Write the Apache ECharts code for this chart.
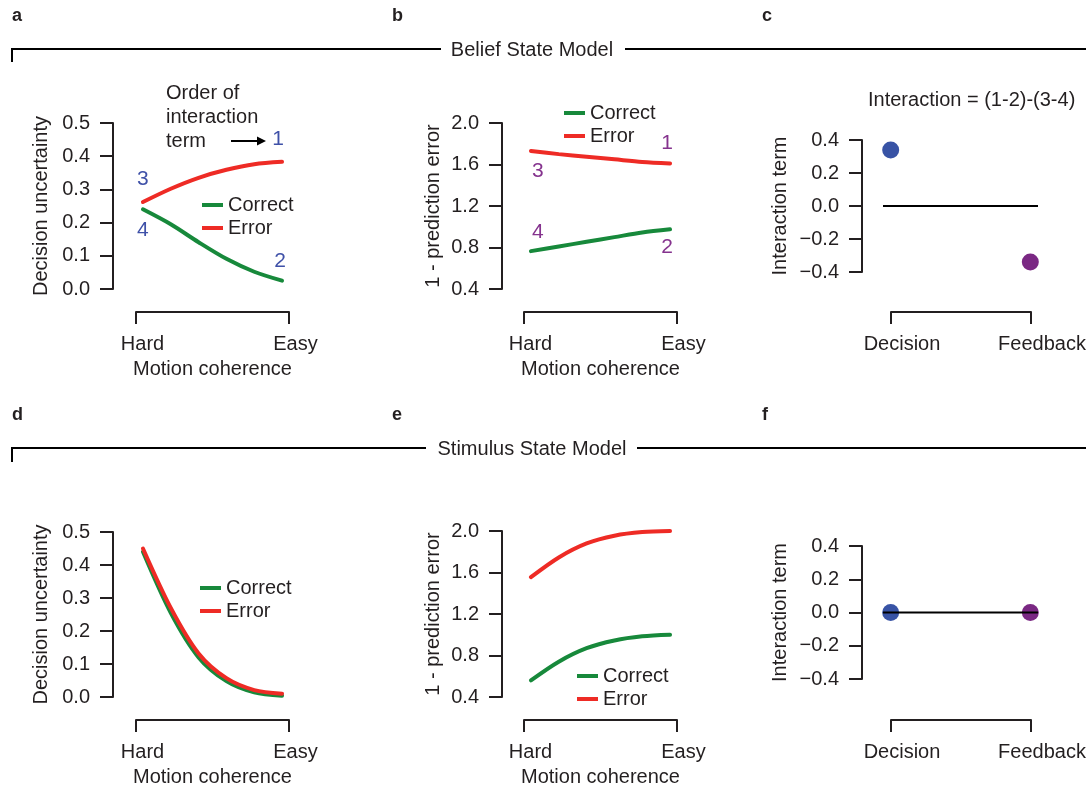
<!DOCTYPE html>
<html>
<head>
<meta charset="utf-8">
<script src="https://cdn.jsdelivr.net/npm/echarts@6/dist/echarts.min.js"></script>
<style>
  html, body { margin: 0; padding: 0; background: #fff; }
  #chart { width: 1086px; height: 787px; }
</style>
</head>
<body>
<div id="chart"></div>
<script>
// motion coherence, Hard (0) -> Easy (1)
const coherence = [0, 0.2, 0.4, 0.6, 0.8, 1]
const coherenceEnds = ['Hard', 'Easy']

// belief state model
const beliefUncCorrect = [0.24, 0.195, 0.141, 0.091, 0.052, 0.025]
const beliefUncError = [0.262, 0.302, 0.335, 0.359, 0.376, 0.383]
const beliefPeCorrect = [0.765, 0.81, 0.855, 0.90, 0.945, 0.975]
const beliefPeError = [1.73, 1.70, 1.675, 1.65, 1.625, 1.61]

// stimulus state model
const stimUncCorrect = [0.44, 0.255, 0.12, 0.048, 0.014, 0.004]
const stimUncError = [0.45, 0.27, 0.132, 0.057, 0.021, 0.01]
const stimPeCorrect = [0.56, 0.74, 0.87, 0.945, 0.985, 1.0]
const stimPeError = [1.555, 1.745, 1.88, 1.955, 1.99, 2.0]

// interaction term = (1-2)-(3-4)
const conditions = ['Decision', 'Feedback']
const beliefInteraction = [0.34, -0.34]
const stimulusInteraction = [0, 0]
const zeroLine = [-0.055, 1.055]

// order tags: 1 = error/easy, 2 = correct/easy, 3 = error/hard, 4 = correct/hard
const orderTags = ['1', '2', '3', '4']

const font = 'Liberation Sans, Arial, Helvetica, sans-serif'
const ink = '#231f20'
const green = '#17893b'
const red = '#ee2b25'
const tagBlue = '#3f51a8'
const tagPurple = '#85338e'
const dotColors = ['#3853a5', '#7a2883']

// 0-5 are the panels, 6-7 only carry the Decision/Feedback brackets of c and f
const grids = [
  { left: 136, top: 123, width: 153, height: 166 },
  { left: 524, top: 123, width: 153, height: 166 },
  { left: 883, top: 140, width: 155, height: 132 },
  { left: 136, top: 532, width: 153, height: 165 },
  { left: 524, top: 531, width: 153, height: 166 },
  { left: 883, top: 546, width: 155, height: 133 },
  { left: 891, top: 140, width: 140, height: 132 },
  { left: 891, top: 546, width: 140, height: 133 }
].map(g => Object.assign({ outerBoundsMode: 'none', containLabel: false }, g))

const axisLine = { show: true, onZero: false, lineStyle: { color: ink, width: 2 } }

function fmt1(v) {
  return (v < -1e-9 ? '\u2212' : '') + Math.abs(v).toFixed(1)
}

function yAxis(gi, min, max, step, name, offset, gap) {
  return {
    type: 'value', gridIndex: gi, min: min, max: max, interval: step,
    offset: offset, axisLine: axisLine,
    axisTick: { show: true, length: 13, lineStyle: { color: ink, width: 2 } },
    axisLabel: { margin: 23, fontSize: 20, color: ink, fontFamily: font, formatter: fmt1 },
    splitLine: { show: false },
    name: name, nameLocation: 'middle', nameGap: gap,
    nameTextStyle: { fontSize: 20, color: ink, fontFamily: font }
  }
}

function xAxisCoh(gi) {
  return {
    type: 'value', gridIndex: gi, min: -0.05, max: 1.05, offset: 23,
    axisLine: axisLine,
    axisTick: { show: true, length: 12, customValues: [-0.05, 1.05], lineStyle: { color: ink, width: 2 } },
    axisLabel: {
      customValues: [-0.05, 1.05], margin: 22, fontSize: 20, color: ink, fontFamily: font,
      padding: [0, 0, 0, 13], formatter: v => v < 0.5 ? coherenceEnds[0] : coherenceEnds[1]
    },
    splitLine: { show: false },
    name: 'Motion coherence', nameLocation: 'middle', nameGap: 47,
    nameTextStyle: { fontSize: 20, color: ink, fontFamily: font }
  }
}

// data axis of c / f, a little wider than the bracket so the zero line overhangs
function xAxisCondData(gi) {
  return { type: 'value', gridIndex: gi, min: zeroLine[0], max: zeroLine[1], show: false }
}

function xAxisCondBracket(gi, offset) {
  return {
    type: 'value', gridIndex: gi, min: 0, max: 1, offset: offset,
    axisLine: axisLine,
    axisTick: { show: true, length: 12, customValues: [0, 1], lineStyle: { color: ink, width: 2 } },
    axisLabel: {
      customValues: [0, 1], margin: 22, fontSize: 20, color: ink, fontFamily: font,
      padding: [0, 0, 0, 22], formatter: v => conditions[Math.round(v)]
    },
    splitLine: { show: false }
  }
}

function curve(gi, name, ys, color) {
  return {
    type: 'line', name: name, xAxisIndex: gi, yAxisIndex: gi,
    data: coherence.map((x, i) => [x, ys[i]]),
    smooth: 0.3, showSymbol: false, symbol: 'none',
    itemStyle: { color: color },
    lineStyle: { color: color, width: 4, cap: 'round' }
  }
}

function tags(gi, correct, error, color, offsets) {
  const n = coherence.length - 1
  const pts = [
    [coherence[n], error[n]],
    [coherence[n], correct[n]],
    [coherence[0], error[0]],
    [coherence[0], correct[0]]
  ]
  return {
    type: 'scatter', xAxisIndex: gi, yAxisIndex: gi, symbolSize: 1,
    itemStyle: { color: 'transparent', opacity: 1 }, silent: true,
    data: pts.map((p, i) => ({
      value: p,
      label: {
        show: true, formatter: orderTags[i], position: 'inside', offset: offsets[i],
        fontSize: 21, color: color, opacity: 1, fontFamily: font
      }
    }))
  }
}

function interaction(gi, vals) {
  return [
    {
      type: 'line', xAxisIndex: gi, yAxisIndex: gi, silent: true,
      data: zeroLine.map(x => [x, 0]), showSymbol: false, symbol: 'none',
      lineStyle: { color: '#000', width: 2 }
    },
    {
      type: 'scatter', xAxisIndex: gi, yAxisIndex: gi, symbolSize: 17, clip: false,
      data: vals.map((v, i) => ({ value: [i, v], itemStyle: { color: dotColors[i], opacity: 1 } }))
    }
  ]
}

function legend(left, top) {
  return {
    data: ['Correct', 'Error'], left: left, top: top, orient: 'vertical',
    icon: 'rect', itemWidth: 21, itemHeight: 4, itemGap: 3,
    textStyle: { fontSize: 20, lineHeight: 20, color: ink, fontFamily: font }
  }
}

function txt(x, y, s, extra) {
  return {
    type: 'text', silent: true,
    style: Object.assign({ x: x, y: y, text: s, fill: ink, font: '20px ' + font }, extra || {})
  }
}

function line(points) {
  return { type: 'polyline', silent: true, shape: { points: points }, style: { stroke: '#000', lineWidth: 2, fill: null } }
}

const letterFont = 'bold 18px ' + font

const option = {
  animation: false,
  backgroundColor: '#fff',
  grid: grids,
  xAxis: [
    xAxisCoh(0), xAxisCoh(1), xAxisCondData(2), xAxisCoh(3), xAxisCoh(4), xAxisCondData(5),
    xAxisCondBracket(6, 40), xAxisCondBracket(7, 41)
  ],
  yAxis: [
    yAxis(0, 0, 0.5, 0.1, 'Decision uncertainty', 23, 62),
    yAxis(1, 0.4, 2.0, 0.4, '1 - prediction error', 22, 59),
    yAxis(2, -0.4, 0.4, 0.2, 'Interaction term', 21, 72),
    yAxis(3, 0, 0.5, 0.1, 'Decision uncertainty', 23, 62),
    yAxis(4, 0.4, 2.0, 0.4, '1 - prediction error', 22, 59),
    yAxis(5, -0.4, 0.4, 0.2, 'Interaction term', 21, 72),
    { type: 'value', gridIndex: 6, min: -0.4, max: 0.4, show: false },
    { type: 'value', gridIndex: 7, min: -0.4, max: 0.4, show: false }
  ],
  legend: [legend(197, 190), legend(559, 98), legend(195, 573), legend(572, 661)],
  series: [
    curve(0, 'Correct', beliefUncCorrect, green),
    curve(0, 'Error', beliefUncError, red),
    tags(0, beliefUncCorrect, beliefUncError, tagBlue, [[-4, -23], [-2, -19], [0, -23], [0, 21]]),
    curve(1, 'Correct', beliefPeCorrect, green),
    curve(1, 'Error', beliefPeError, red),
    tags(1, beliefPeCorrect, beliefPeError, tagPurple, [[-3, -20], [-3, 18], [7, 20], [7, -19]]),
    ...interaction(2, beliefInteraction),
    curve(3, 'Correct', stimUncCorrect, green),
    curve(3, 'Error', stimUncError, red),
    curve(4, 'Correct', stimPeCorrect, green),
    curve(4, 'Error', stimPeError, red),
    ...interaction(5, stimulusInteraction)
  ],
  graphic: [
    txt(12, 25, 'a', { font: letterFont, verticalAlign: 'bottom' }),
    txt(392, 25, 'b', { font: letterFont, verticalAlign: 'bottom' }),
    txt(762, 25, 'c', { font: letterFont, verticalAlign: 'bottom' }),
    txt(12, 424, 'd', { font: letterFont, verticalAlign: 'bottom' }),
    txt(392, 424, 'e', { font: letterFont, verticalAlign: 'bottom' }),
    txt(762, 424, 'f', { font: letterFont, verticalAlign: 'bottom' }),
    line([[12, 62], [12, 49], [441, 49]]),
    line([[625, 49], [1086, 49]]),
    txt(532, 50, 'Belief State Model', { align: 'center', verticalAlign: 'middle' }),
    line([[12, 462], [12, 448], [426, 448]]),
    line([[637, 448], [1086, 448]]),
    txt(532, 449, 'Stimulus State Model', { align: 'center', verticalAlign: 'middle' }),
    txt(166, 81, 'Order of\ninteraction\nterm', { lineHeight: 24, verticalAlign: 'top' }),
    line([[231, 141], [260, 141]]),
    { type: 'polygon', silent: true, shape: { points: [[257, 136.5], [266, 141], [257, 145.5]] }, style: { fill: '#000' } },
    txt(868, 100, 'Interaction = (1-2)-(3-4)', { verticalAlign: 'middle' })
  ]
}

const chart = echarts.init(document.getElementById('chart'))
chart.setOption(option)
</script>
</body>
</html>
